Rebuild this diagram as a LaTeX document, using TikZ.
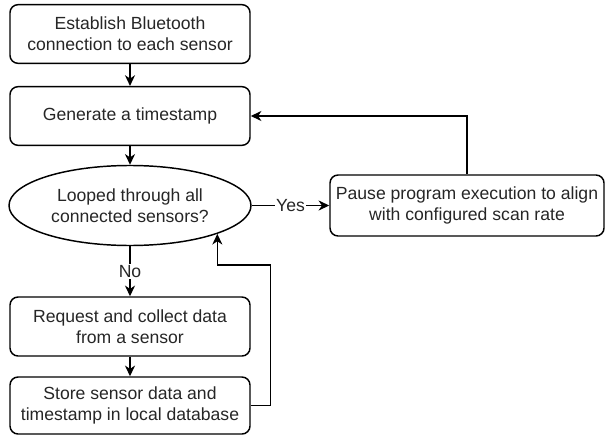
\documentclass[tikz,border=0pt]{standalone}
\usepackage{fontspec}
\setmainfont{Liberation Sans}
\usetikzlibrary{shapes.geometric,arrows.meta,calc}
\begin{document}
\begin{tikzpicture}[x=0.75pt,y=-0.75pt,
  every node/.style={font=\fontsize{13.2pt}{16pt}\selectfont, text=black!85},
  box/.style={draw, line width=1.1pt, rounded corners=6pt, align=center,
    minimum width=180pt, minimum height=44pt, inner sep=0pt},
  dec/.style={draw, line width=1.1pt, ellipse, align=center,
    minimum width=181.5pt, minimum height=60pt, inner sep=0pt},
  arr/.style={draw, line width=1.1pt, -{Stealth[length=8pt,width=7.5pt,inset=2.5pt]}},
  lbl/.style={fill=white, inner sep=1pt}]
\useasboundingbox (0,0) rectangle (606,435);
\node[box] (b1) at (130,34) {Establish Bluetooth\\connection to each sensor};
\node[box] (b2) at (130,116) {Generate a timestamp};
\node[dec] (dec) at (130,205.5) {Looped through all\\connected sensors?};
\node[box, minimum width=205.5pt, minimum height=45.75pt] (pause) at (467,205.5) {Pause program execution to align\\with configured scan rate};
\node[box, minimum height=44.25pt] (b3) at (130,326.5) {Request and collect data\\from a sensor};
\node[box, minimum height=42.75pt] (b4) at (130,405.5) {Store sensor data and\\timestamp in local database};
\draw[arr] (b1) -- (b2);
\draw[arr] (b2) -- (dec);
\draw[arr] (dec) -- node[lbl]{Yes} (pause);
\draw[arr] (pause.north) |- (b2.east);
\draw[arr] (dec) -- node[lbl]{No} (b3);
\draw[arr] (b3) -- (b4);
\draw[arr] (b4.east) -- ++(20,0) |- ($(dec.-18.5)+(0,31)$) -- (dec.-18.5);
\end{tikzpicture}
\end{document}
